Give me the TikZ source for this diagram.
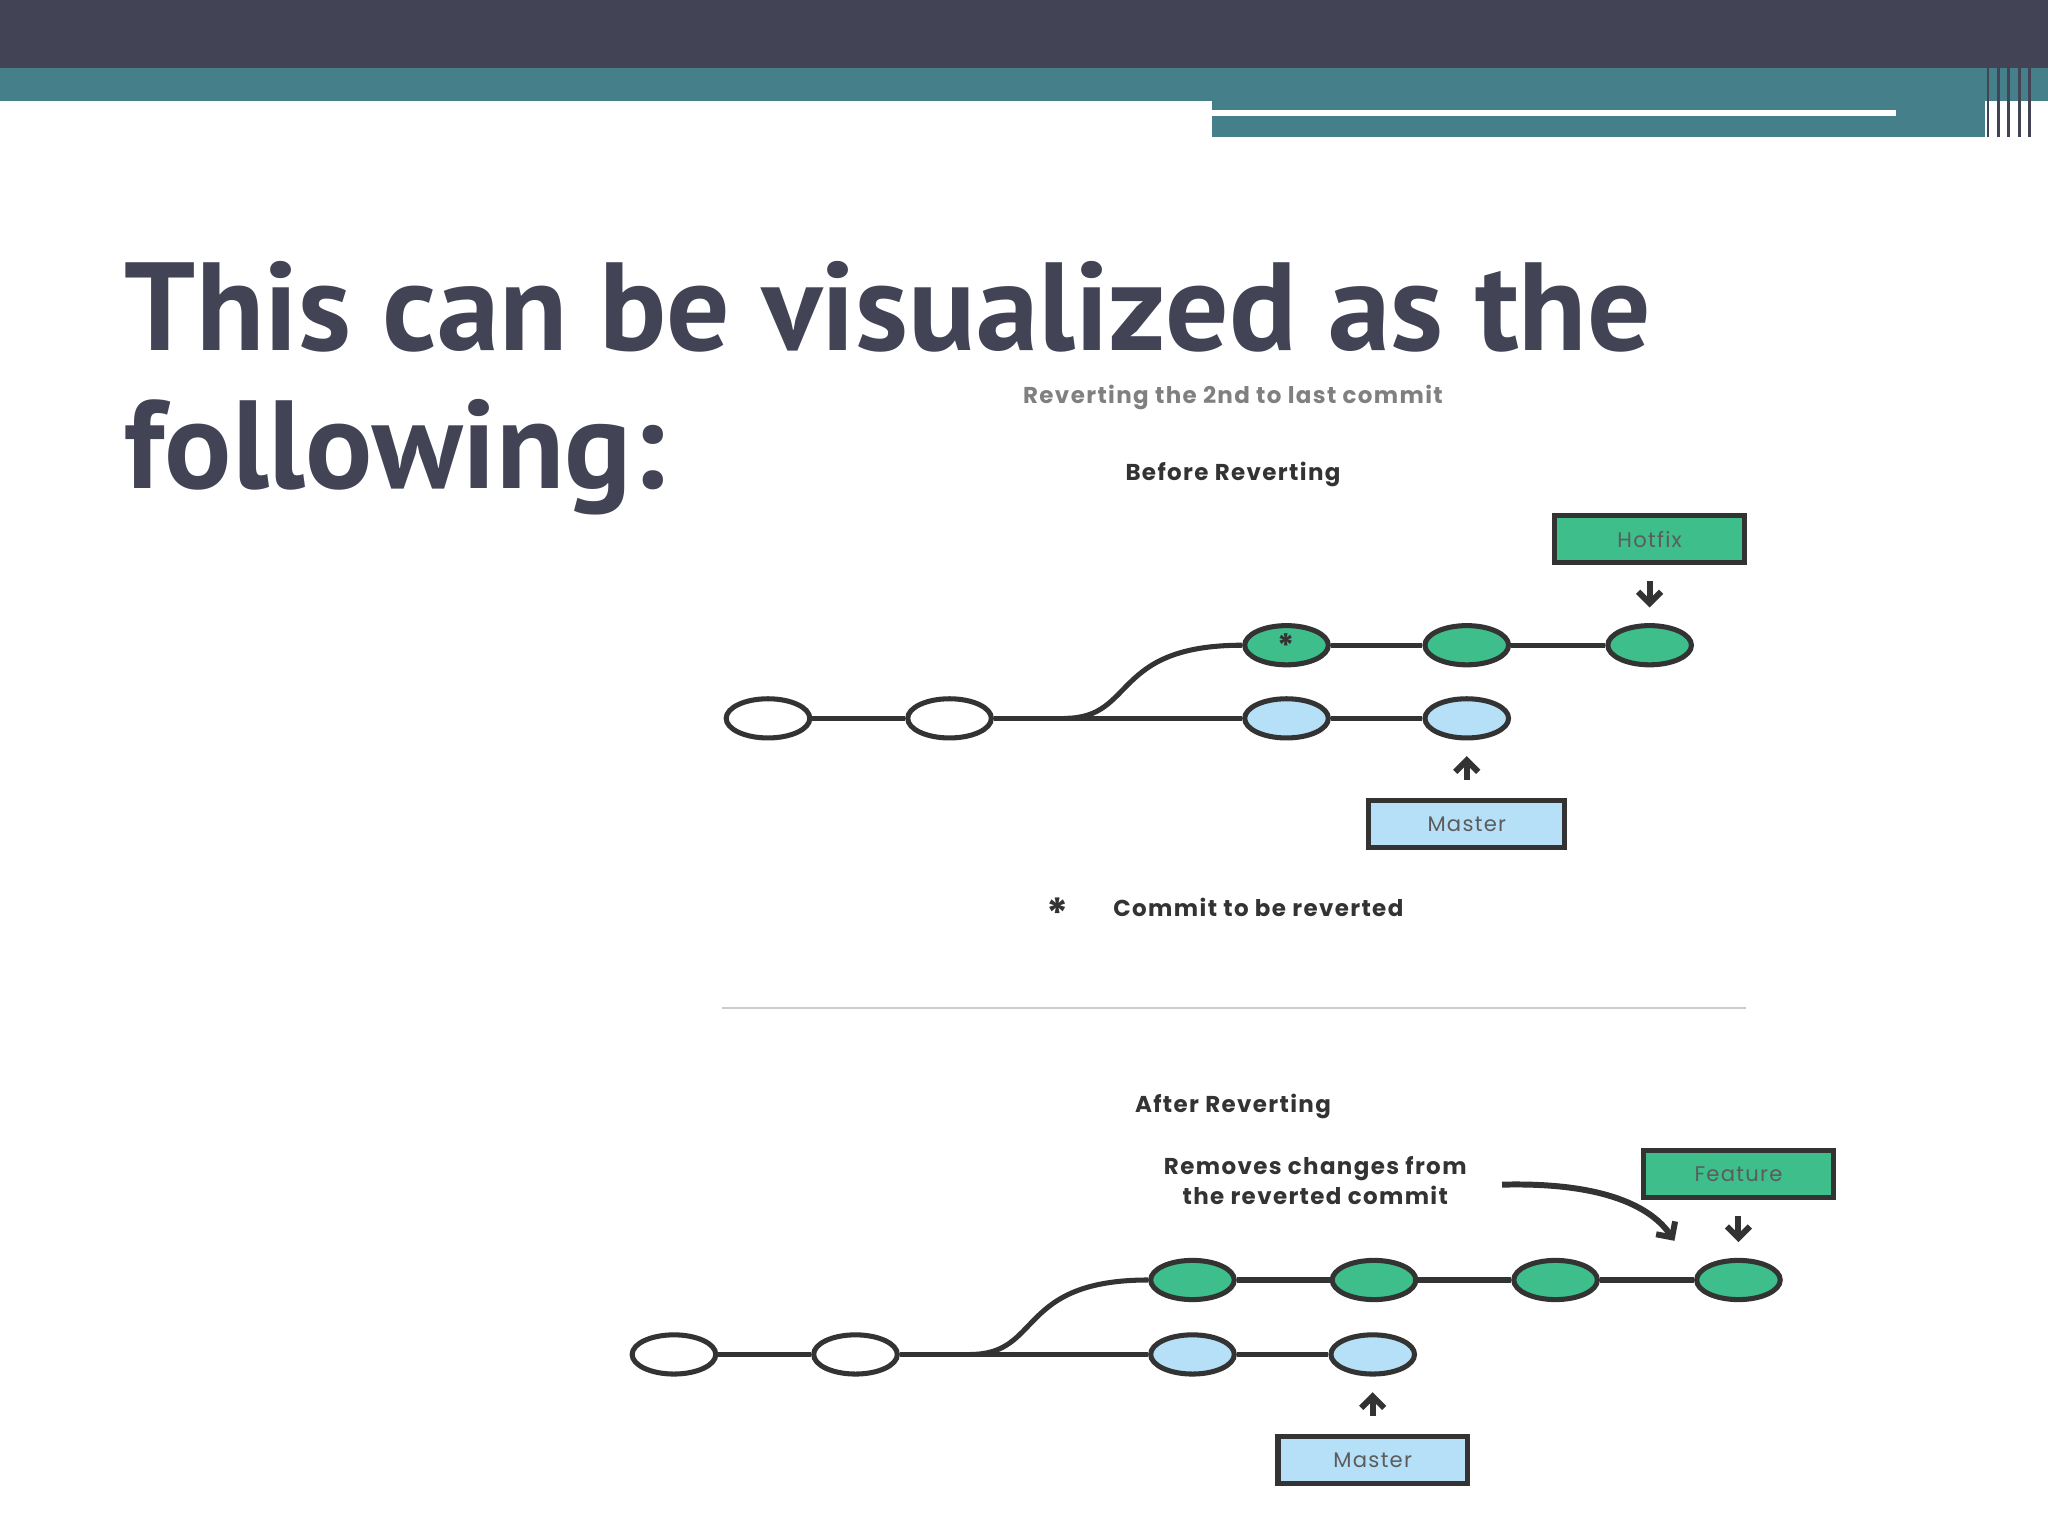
\documentclass[tikz,border=0pt]{standalone}
\usepackage{fontspec}
\setmainfont{PT Sans}
\newfontfamily\pop{Poppins}[LetterSpace=6]
\usetikzlibrary{arrows.meta,shapes.geometric}
\definecolor{dk}{HTML}{424456}
\definecolor{tl}{HTML}{45808A}
\definecolor{gr}{HTML}{3DBE8B}
\definecolor{bl}{HTML}{B5E0F7}
\definecolor{ln}{HTML}{333333}
\begin{document}
\begin{tikzpicture}[x=0.01cm,y=-0.01cm,
 cmt/.style={ellipse,draw=ln,line width=1.1pt,minimum width=0.64cm,minimum height=0.3cm,inner sep=0pt},
 g/.style={cmt,fill=gr}, b/.style={cmt,fill=bl}, w/.style={cmt,fill=white},
 lbl/.style={draw=ln,line width=1.1pt,minimum width=1.45cm,minimum height=0.36cm,inner sep=0pt,text=ln!80,font=\pop\fontsize{4.6}{5}\selectfont},
 sm/.style={font=\pop\bfseries\fontsize{5}{5.2}\selectfont,text=ln,align=center},
 ed/.style={ln,line width=1.1pt},
 ar/.style={ln,line width=1.3pt,-{Straight Barb[length=2.5pt,width=5pt]}}]
\useasboundingbox (0,0) rectangle (1568,1176);
\fill[dk] (0,0) rectangle (1568,52);
\fill[tl] (0,52) rectangle (1568,77);
\fill[tl] (928,77) rectangle (1520,105);
\fill[white] (928,84) rectangle (1452,89);
\foreach \x in {1522,1530,1538,1546,1554}{\draw[dk,line width=0.6pt] (\x,0)--(\x,105);}
\node[anchor=base west,text=dk,font=\bfseries\fontsize{27.3}{31}\selectfont,align=left,inner sep=0pt] (title) at (95,268) {This can be visualized as the};
\node[anchor=base west,text=dk,font=\bfseries\fontsize{27.3}{31}\selectfont,inner sep=0pt] (title2) at (95,374) {following:};
\node[sm,text=gray] (hd) at (944,304) {Reverting the 2nd to last commit};
\node[sm] (bef) at (944,363) {Before Reverting};
% before
\node[w] (a1) at (588,550) {}; \node[w] (a2) at (727,550) {};
\node[b] (a3) at (985,550) {}; \node[b] (a4) at (1123,550) {};
\node[g] (a5) at (985,494) {\pop\bfseries\fontsize{7}{7}\selectfont\color{ln}*};
\node[g] (a6) at (1123,494) {}; \node[g] (a7) at (1263,494) {};
\coordinate (ba) at (815,550);
\draw[ed] (a1)--(a2)--(a3)--(a4);
\draw[ed] (ba) .. controls (870,550) and (850,494) .. (a5.west);
\draw[ed] (a5)--(a6)--(a7);
\node[lbl,fill=gr] (hot) at (1263,413) {Hotfix};
\node[lbl,fill=bl,minimum width=1.5cm] (m1) at (1123,631) {Master};
\draw[ar] ([shift={(0,12)}]hot.south) -- ([shift={(0,-12)}]a7.north);
\draw[ar] ([shift={(0,-14)}]m1.north) -- ([shift={(0,12)}]a4.south);
\node[sm,font=\pop\bfseries\fontsize{9}{9}\selectfont] (ast) at (810,699) {*};
\node[sm,anchor=west] (leg) at (840,695) {Commit to be reverted};
\draw[gray!40,line width=0.5pt] (553,772) -- (1337,772);
% after
\node[sm] (aft) at (944,847) {After Reverting};
\node[w] (c1) at (516,1037) {}; \node[w] (c2) at (655,1037) {};
\node[b] (c3) at (913,1037) {}; \node[b] (c4) at (1051,1037) {};
\node[g] (c5) at (913,980) {}; \node[g] (c6) at (1052,980) {};
\node[g] (c7) at (1191,980) {}; \node[g] (c8) at (1331,980) {};
\coordinate (bb) at (743,1037);
\draw[ed] (c1)--(c2)--(c3)--(c4);
\draw[ed] (bb) .. controls (798,1037) and (778,980) .. (c5.west);
\draw[ed] (c5)--(c6)--(c7)--(c8);
\node[lbl,fill=gr] (fea) at (1331,899) {Feature};
\node[lbl,fill=bl] (m2) at (1051,1118) {Master};
\draw[ar] ([shift={(0,12)}]fea.south) -- ([shift={(0,-12)}]c8.north);
\draw[ar] ([shift={(0,-14)}]m2.north) -- ([shift={(0,12)}]c4.south);
\node[sm,font=\pop\bfseries\fontsize{5}{3.8}\selectfont] (rm) at (1007,904) {Removes changes from\\the reverted commit};
\coordinate (rs) at (1150,907); \coordinate (re) at (1282,950);
\draw[ar] (rs) .. controls (1230,905) and (1265,925) .. (re);
\end{tikzpicture}
\end{document}
